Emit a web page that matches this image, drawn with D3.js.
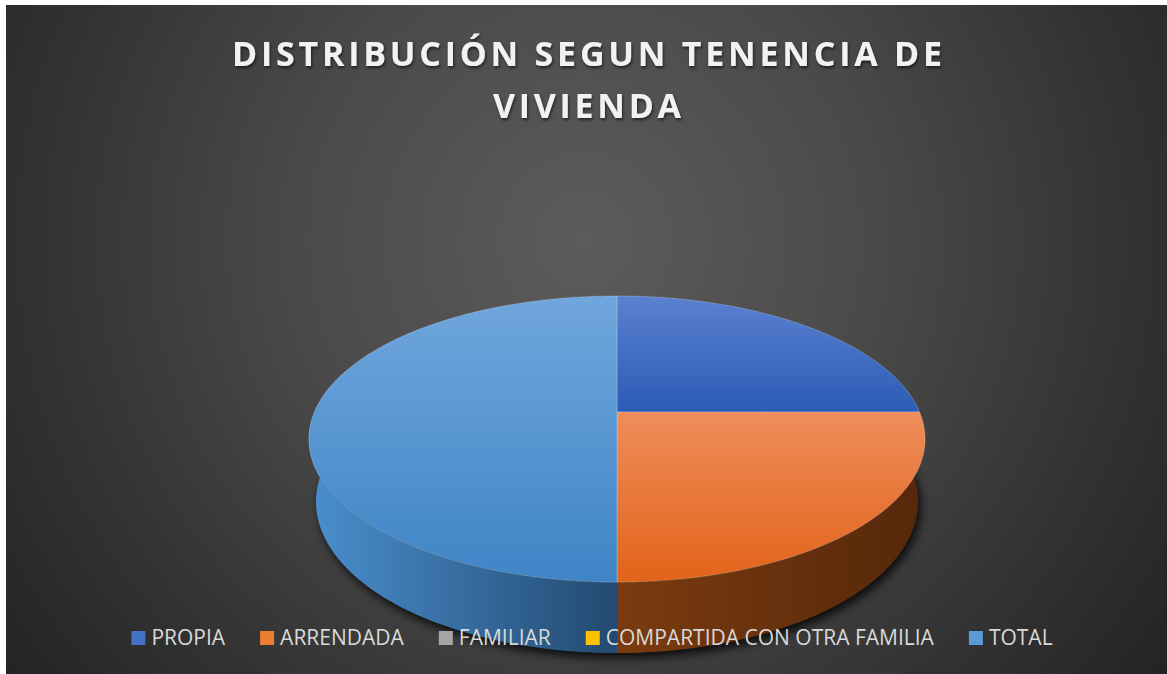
<!DOCTYPE html>
<html>
<head>
<meta charset="utf-8">
<script src="https://cdn.jsdelivr.net/npm/d3@7"></script>
<style>
  html, body { margin: 0; padding: 0; background: #fff; }
  svg { display: block; }
</style>
</head>
<body>
<svg id="chart" width="1167" height="674"></svg>
<script>
// datos del gráfico
const titleLines = ["DISTRIBUCIÓN SEGUN TENENCIA DE", "VIVIENDA"];
const categories = ["PROPIA", "ARRENDADA", "FAMILIAR", "COMPARTIDA CON OTRA FAMILIA", "TOTAL"];
const values = [50, 50, 0, 0, 100];

// colores (estilo Office)
const colors = ["#4472C4", "#ED7D31", "#A5A5A5", "#FFC000", "#5B9BD5"];
const topShades = [["#5b81d0", "#2c5cb6"], ["#ee8d5a", "#e3631a"], ["#b5b5b5", "#8f8f8f"], ["#ffcb3a", "#e6a800"], ["#70a6dd", "#3f85c6"]];
const sideShades = [["#3a62ad", "#22437f"], ["#7b3b10", "#55280a"], ["#8a8a8a", "#5a5a5a"], ["#b88a00", "#7a5c00"], ["#4a8fcf", "#234a70"]];

const W = 1167, H = 674;
const svg = d3.select("#chart");
const defs = svg.append("defs");

// fondo con degradado radial
const bg = defs.append("radialGradient").attr("id", "bg")
  .attr("gradientUnits", "userSpaceOnUse")
  .attr("cx", 585).attr("cy", 240).attr("r", 720);
bg.append("stop").attr("offset", 0).attr("stop-color", "#5c5c5c");
bg.append("stop").attr("offset", 0.4).attr("stop-color", "#4a4a4a");
bg.append("stop").attr("offset", 0.75).attr("stop-color", "#333333");
bg.append("stop").attr("offset", 1).attr("stop-color", "#242424");

svg.append("rect").attr("x", 6).attr("y", 5).attr("width", W - 6).attr("height", H - 5)
  .attr("fill", "url(#bg)");

// sombras
const ts = defs.append("filter").attr("id", "tshadow").attr("x", "-10%").attr("y", "-30%").attr("width", "120%").attr("height", "160%");
ts.append("feDropShadow").attr("dx", 1).attr("dy", 2).attr("stdDeviation", 1.5)
  .attr("flood-color", "#000").attr("flood-opacity", 0.6);

const ps = defs.append("filter").attr("id", "pshadow").attr("x", "-20%").attr("y", "-20%").attr("width", "140%").attr("height", "140%");
ps.append("feGaussianBlur").attr("stdDeviation", 5);

// título
svg.append("g").attr("filter", "url(#tshadow)")
  .selectAll("text").data(titleLines).enter().append("text")
  .attr("x", 587)
  .attr("y", (d, i) => 66 + i * 52)
  .attr("text-anchor", "middle")
  .attr("textLength", (d, i) => i === 0 ? 710 : 188)
  .attr("lengthAdjust", "spacing")
  .style("font-family", "'Open Sans', sans-serif")
  .style("font-weight", "bold")
  .style("font-size", "34px")
  .style("fill", "#f2f2f2")
  .text(d => d);

// proyección en perspectiva del pastel 3D
const cx = 617, cy = 412, f = 1425, D = 4.71;
const sinP = 0.456, cosP = 0.89, thick = 0.234;

function proj(u, v, yw) {
  const ry = yw - D * sinP, rz = v - D * cosP;
  const depth = -ry * sinP - rz * cosP;
  const yc = ry * cosP - rz * sinP;
  return [cx + f * u / depth, cy - f * yc / depth];
}
function rim(a0, a1, yw) {
  const n = Math.max(2, Math.ceil((a1 - a0) / 0.02));
  return d3.range(n + 1).map(i => {
    const a = a0 + (a1 - a0) * i / n;
    return proj(Math.sin(a), -Math.cos(a), yw);
  });
}

const pie = d3.pie().sort(null).value(d => d);
const arcs = pie(values).map((d, i) => Object.assign(d, { i }))
  .filter(d => d.endAngle - d.startAngle > 0);

const line = d3.line();

// gradientes por porción
arcs.forEach(d => {
  const g = defs.append("linearGradient").attr("id", "top" + d.i)
    .attr("x1", 0).attr("y1", 0).attr("x2", 0).attr("y2", 1);
  g.append("stop").attr("offset", 0).attr("stop-color", topShades[d.i][0]);
  g.append("stop").attr("offset", 1).attr("stop-color", topShades[d.i][1]);
  const pts = rim(d.startAngle, d.endAngle, 0);
  const xs = pts.map(p => p[0]).concat([cx]);
  const s = defs.append("linearGradient").attr("id", "side" + d.i)
    .attr("gradientUnits", "userSpaceOnUse")
    .attr("x1", d.startAngle >= Math.PI ? d3.min(xs) : cx).attr("y1", 0)
    .attr("x2", d.startAngle >= Math.PI ? cx : d3.max(xs)).attr("y2", 0);
  s.append("stop").attr("offset", 0).attr("stop-color", sideShades[d.i][0]);
  s.append("stop").attr("offset", 1).attr("stop-color", sideShades[d.i][1]);
});

const pieG = svg.append("g");

// sombra bajo el pastel
pieG.append("path")
  .attr("d", line(rim(0, 2 * Math.PI, -thick).map(p => [p[0] + 3, p[1] + 5])) + "Z")
  .attr("fill", "#000").attr("opacity", 0.8)
  .attr("filter", "url(#pshadow)");

// paredes laterales
pieG.selectAll(".side").data(arcs).enter().append("path")
  .attr("class", "side")
  .attr("d", d => line(rim(d.startAngle, d.endAngle, 0).concat(rim(d.startAngle, d.endAngle, -thick).reverse())) + "Z")
  .attr("fill", d => `url(#side${d.i})`);

// caras superiores
pieG.selectAll(".top").data(arcs).enter().append("path")
  .attr("class", "top")
  .attr("d", d => line([proj(0, 0, 0)].concat(rim(d.startAngle, d.endAngle, 0))) + "Z")
  .attr("fill", d => `url(#top${d.i})`)
  .attr("stroke", "rgba(255,255,255,0.22)")
  .attr("stroke-width", 1);

// leyenda
const legend = svg.append("g");
const items = legend.selectAll("g").data(categories).enter().append("g");
items.append("rect")
  .attr("width", 14).attr("height", 14).attr("y", 631)
  .attr("fill", (d, i) => colors[i]);
items.append("text")
  .attr("x", 20).attr("y", 645)
  .style("font-family", "'Open Sans', sans-serif")
  .style("font-size", "21px")
  .style("fill", "#d9d9d9")
  .text(d => d);

const widths = [];
items.each(function() { widths.push(20 + this.querySelector("text").getComputedTextLength()); });
const gap = 35;
const total = d3.sum(widths) + gap * (widths.length - 1);
let xPos = 592 - total / 2;
items.attr("transform", (d, i) => {
  const t = `translate(${xPos},0)`;
  xPos += widths[i] + gap;
  return t;
});
</script>
</body>
</html>
